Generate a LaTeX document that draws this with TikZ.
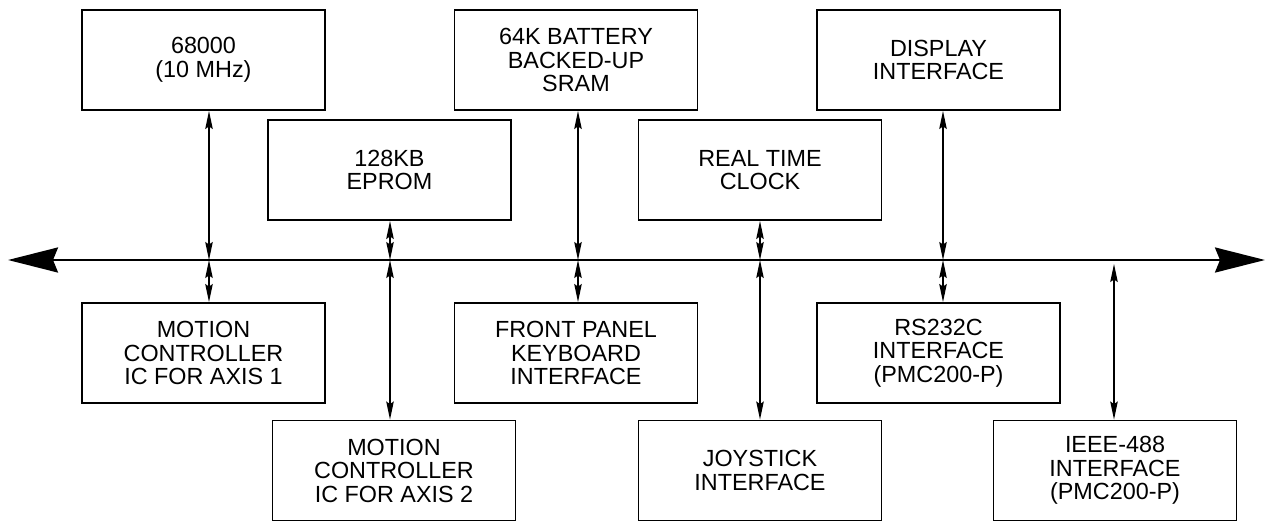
\documentclass[tikz,border=0pt]{standalone}
\usepackage{fontspec}
\setmainfont{Liberation Sans}
\usetikzlibrary{arrows.meta}

\begin{document}
\begin{tikzpicture}[x=0.02cm,y=-0.02cm,
  >={Stealth[length=0.36cm,width=0.15cm,inset=0.05cm]},
  unit/.style={draw,line width=1.1pt,minimum width=4.86cm,minimum height=2cm,
    inner sep=0pt,align=center,font=\fontsize{13.3}{13.4}\selectfont},
  link/.style={<->,line width=0.7pt},
  busline/.style={{Stealth[length=1cm,width=0.5cm,inset=0.1cm]}-{Stealth[length=1cm,width=0.5cm,inset=0.1cm]},line width=1.4pt}]
\useasboundingbox (0,0) rectangle (1272,521);
% boards above the bus
\node[unit] (cpu)   at (203.5,60)  {68000\\(10 MHz)};
\node[unit] (eprom) at (389.5,170) {128KB\\EPROM};
\node[unit] (sram)  at (576,60)    {64K BATTERY\\BACKED-UP\\SRAM};
\node[unit] (rtc)   at (760,170)   {REAL TIME\\CLOCK};
\node[unit] (disp)  at (938.5,60)  {DISPLAY\\INTERFACE};
% boards below the bus
\node[unit] (axis1) at (203.5,353) {MOTION\\CONTROLLER\\IC FOR AXIS 1};
\node[unit] (axis2) at (394,470.5) {MOTION\\CONTROLLER\\IC FOR AXIS 2};
\node[unit] (panel) at (576,353)   {FRONT PANEL\\KEYBOARD\\INTERFACE};
\node[unit] (joy)   at (760,470.5) {JOYSTICK\\INTERFACE};
\node[unit] (rs)    at (938.5,353) {RS232C\\INTERFACE\\(PMC200-P)};
\node[unit] (ieee)  at (1115,470.5){IEEE-488\\INTERFACE\\(PMC200-P)};
% system bus and its taps
\coordinate (busL) at (8,260);
\coordinate (busR) at (1265,260);
\coordinate (t1) at (209,260);
\coordinate (t2) at (390,260);
\coordinate (t3) at (578,260);
\coordinate (t4) at (760,260);
\coordinate (t5) at (943,260);
\coordinate (t6) at (1114,264);
\draw[busline] (busL) -- (busR);
\foreach \src/\tp in {cpu/t1,eprom/t2,sram/t3,rtc/t4,disp/t5}
  \draw[link] (\src.south -| \tp) -- (\tp);
\foreach \src/\tp in {axis1/t1,axis2/t2,panel/t3,joy/t4,rs/t5,ieee/t6}
  \draw[link] (\tp) -- (\src.north -| \tp);
\end{tikzpicture}
\end{document}
